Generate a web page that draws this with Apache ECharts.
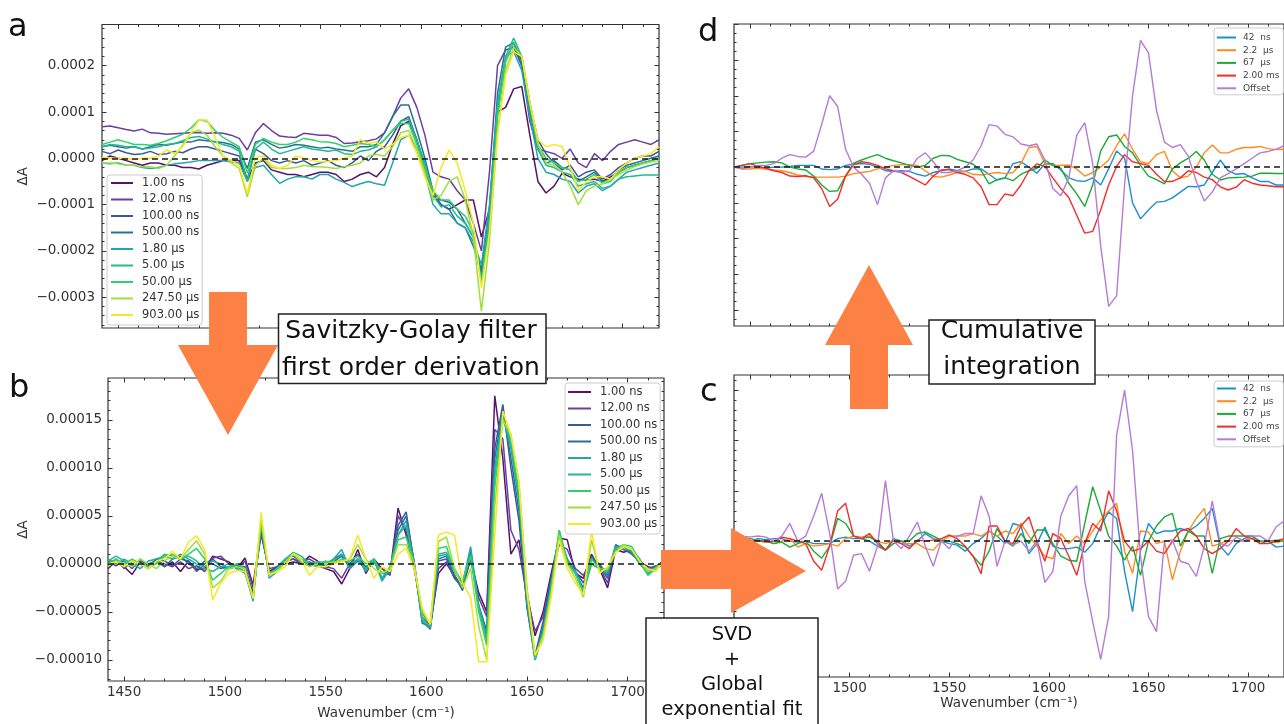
<!DOCTYPE html>
<html><head><meta charset="utf-8">
<script src="https://cdn.jsdelivr.net/npm/echarts@6/dist/echarts.min.js"></script>
<style>html,body{margin:0;padding:0;background:#fff}#c{width:1284px;height:724px}</style>
</head><body><div id="c"></div>
<script>
// ---------- DATA ----------
const wn = [1442,1446,1450,1454,1458,1462,1466,1470,1474,1478,1482,1486,1490,1494,1498,1502,1506,1510,1514,1518,1522,1526,1530,1534,1538,1542,1546,1550,1554,1558,1562,1566,1570,1574,1578,1582,1586,1590,1594,1598,1602,1606,1610,1614,1618,1622,1626,1630,1634,1638,1642,1646,1650,1654,1658,1662,1666,1670,1674,1678,1682,1686,1690,1694,1698,1702,1706,1710,1714,1718];

const abNames = ['1.00 ns','12.00 ns','100.00 ns','500.00 ns','1.80 µs','5.00 µs','50.00 µs','247.50 µs','903.00 µs'];
const abColors = ['#55136b','#6a3fa0','#3b5a9d','#2a6f96','#22a5ad','#20b991','#2fd16a','#9fdf3b','#fbe622'];

// panel a : ΔA in units of 1e-5
const a1 = [-0.5,0.5,0,-0.5,-1,-1.5,-1,-1,-1.5,-1.5,-2,-2,-2.3,-1.5,-1,-0.5,-0.5,-0.5, -4.7,-1,-0.5,-2.5,-3,-3.5,-3.5,-4,-3.5,-3,-3,-3.5,-5,-4.5,-3.5,-3,-4,-2, 3,7,8,4,-2,-8,-10,-11,-10,-9,-9,-17, -11,10,11,15,15.5,5,-5,-7.5,-6,-3.2,-4,-4.5,-4.7,-4.5,-5,-4,-3,-2,-1.5,-1,-0.5,0];
const a2 = [6.8,7.0,6.6,6.2,5.9,6.3,5.5,5.4,5.2,5.3,5.4,5.5,5.6,5.4,5.5,5.4,5.0,4.3, 1.8,5.5,7.5,6,4.8,4.6,4.5,5.4,5.2,5,5,4.5,3.2,3.3,3.6,3.8,4.2,5.5, 9,13,15,11,5,-3,-4,-4.5,-7,-9,-14,-20, -3,20,23.4,24,20,8,2,1.5,1,0,2,-1,-2,1,-0.5,1.5,3,3.5,4,3.5,3,4];
const a3 = [1.5,1.0,1.8,1.2,0.8,1.0,1.5,0.8,1.0,1.5,1.2,2.0,2.5,2.5,2.0,1.5,1.0,0.5, -4.5,2.0,1.0,-0.5,-1.0,-0.5,-1.0,-0.5,-1.5,-1.0,-0.5,-1.5,-2.0,-1.0,0.5,-0.5,1.5,2.5, 5,8,9,4,-2,-8,-9,-9.5,-11,-14,-17,-25, -14,10,21,25,21,12,4,1,-1,-2.5,-1.5,-4,-3,-2.5,-4.5,-3.5,-2,-1,0,0.5,0.5,1.5];
const a4 = [2.5,2.8,2.5,2.2,2.5,2.0,2.5,3.0,2.8,3.2,3.5,3.5,4.0,3.8,3.6,3.4,3.0,2.0, -2.2,3.5,4.0,3.0,2.2,2.5,3.0,2.8,2.5,2.2,2.4,2.0,1.8,1.5,2.5,2.5,3.0,5.5, 9,11.5,11.5,6,0,-7,-10,-11,-14,-15,-19,-24, -11,14,24,25,20,10,2,-1,-0.5,-2,-2.5,-5,-4,-3,-5,-4.5,-2.5,-1.5,-1,-0.5,0,0.5];
const a5 = [-1.0,-1.2,-1.0,-1.5,-1.5,-2.0,-2.2,-2.0,-1.5,-1.2,-1.0,-0.8,-0.5,-0.5,-0.5,-0.5,-0.8,-1.0, -5,-2,-1.5,-3.5,-5.4,-4.5,-4.0,-4.0,-4.5,-3.5,-3.5,-4.5,-5.2,-6.1,-5.5,-5.0,-5.5,-5.8, -1,4,5,2,-3,-10,-12,-12,-14,-15,-18,-23, -10,12,22,23,19,9,0,-3,-3.5,-4.5,-5,-7.5,-6,-5.5,-7,-6,-4.5,-3,-2.5,-2,-1.5,-1];
const a6 = [2.5,3.0,2.8,2.5,2.5,2.0,2.2,2.5,3.0,3.2,3.8,4.5,4.7,4.2,3.5,3.0,2.5,1.5, -5,2.0,3.5,2.0,1.0,1.5,2.0,2.5,2.0,1.8,1.5,1.8,1.0,0.8,1.5,1.8,2.5,4.0, 6,8,8.5,4,-1,-8,-10.5,-10,-12.5,-14,-17,-26, -13,11,22,26,22,11,2,-1.5,-2,-3,-3.5,-6,-5.5,-5,-6.5,-6,-4.5,-4,-3.8,-3.6,-3.6,-3.6];
const a7 = [3.0,3.5,4.0,3.5,3.0,3.0,2.8,3.2,3.8,4.5,5.2,6.5,8.3,8.0,6.0,4.5,3.5,2.5, -3.2,3.0,4.3,3.5,3.0,3.0,3.5,4.3,4.0,3.6,3.5,3.2,2.5,2.8,3.2,3.0,2.5,4.0, 6,7.5,7.5,3,-2,-7,-9,-9,-11,-12.5,-16,-27, -15,9,21,25,22,12,3,0,-1,-2,-2.5,-5,-4.5,-3.5,-5.5,-5,-3,-2,-1.5,-1,-0.5,0];
const a8 = [-1.0,-1.0,-1.2,-1.5,-1.5,-1.8,-1.8,-2.2,-1.5,0.5,2.9,5.5,6.1,5.0,2.5,0.5,-1.0,-2.2, -8.3,-1.5,0,-2.0,-2.2,-2.2,-2.0,-1.5,-1.8,-1.8,-2.0,-2.2,-1.8,-1.5,-1.0,0.5,0.8,0.5, 2.5,5.5,6,2,-3,-9,-8,-5,-4,-9,-17,-33, -18,6,19,24,22,12,3,-1,-1.5,-3,-6,-10,-7,-6,-5.5,-4.5,-3.5,-2.5,-1.8,-1.2,-0.8,-0.5];
const a9 = [0.3,0,0,0,-0.3,0,0,0.5,1.8,1.0,2.5,5.5,8.3,8.3,4.5,0.5,-0.5,-1.5, -7.6,0.2,0.5,-1.5,-2.2,-1.5,0.5,0,-0.5,-0.8,-0.7,-0.5,0,0.5,4,3.2,3.5,2, 3,4.5,5,1,-4,-8,-2,1.8,-1,-7,-14,-28, -16,5,18,23,22,12,4,2.5,3,2.5,-2,-7,-5,-4,-4,-4.5,-2.5,-1,0,0.5,1,2.5];

// panel b : dΔA in units of 1e-5
const b1 = [-0.5,0.3,-0.3,-1.1,0.2,-0.5,0.5,-0.3,0.2,-0.8,0.3,-0.6,-0.5,0.8,0.5,0.2,-0.5,0.6, -2.2,3.4,-0.8,-0.3,0.0,0.2,0.0,0.8,0.3,-0.5,-0.8,-2.1,-0.5,1.5,-1.0,0.5,-0.5,-1.0, 5.8,3.0,-0.5,-5.0,-6.5,-1.0,0.0,-1.2,-2.5,0.5,-3.0,-5.0, 17.5,11,1.0,2.5,-3.0,-7.5,-5.0,-1.0,2.7,2.5,-1.0,-1.5,1.0,-0.5,-2.5,1.5,1.2,1.5,0.2,-0.3,-0.5,0.5];
const b2 = [0.2,-0.2,0.3,-0.5,0.5,-0.2,0.3,0.0,-0.3,0.2,-0.5,-0.2,-0.8,0.6,0.8,0.0,-0.5,0.3, -2.5,3.0,-0.5,-0.3,0.3,0.5,0.2,0.5,0.0,-0.3,-0.5,-1.5,0.0,1.0,-0.5,0.2,-0.5,-1.2, 5.0,3.5,-0.3,-5.5,-6.5,-0.5,0.2,-1.5,-2.3,0.5,-3.5,-5.5, 14,13,3.5,1.5,-3.5,-7,-5.5,-1.5,2.0,1.5,-0.5,-1.2,0.5,-0.3,-2.0,1.8,1.5,1.0,0.3,-0.5,-0.3,0.3];
const b3 = [0.0,0.5,-0.5,0.3,0.0,-0.3,0.5,0.3,-0.2,0.5,0.3,-0.8,0.0,0.5,-0.3,-0.5,-0.2,-0.3, -3.0,3.5,-1.0,-0.5,0.3,0.5,0.0,0.2,-0.2,-0.5,0.2,0.8,-0.3,0.5,-0.3,0.2,-1.0,-1.0, 4.0,5.4,0.0,-6.0,-6.8,0.3,0.5,-1.5,-2.5,1.0,-4.3,-7.0, 12,16.6,10,4.5,-4.5,-9.5,-6.0,-1.5,2.5,0.5,-0.8,-2.0,0.5,0.0,-1.2,2.0,1.5,1.2,0.0,-0.5,-0.2,0.0];
const b4 = [0.3,0.2,0.0,-0.3,0.3,0.0,0.3,-0.3,0.5,0.8,0.0,-0.5,0.3,0.0,-0.5,-0.3,0.0,-0.5, -3.3,4.0,-1.2,-0.3,0.5,0.8,0.2,-0.2,0.0,-0.3,0.5,1.0,-0.5,0.3,-0.5,0.5,-1.5,-0.8, 3.5,5.0,0.2,-6.2,-6.5,0.5,0.8,-1.2,-2.8,1.5,-4.5,-7.5, 11,16,11,5.5,-4.5,-10,-6.5,-1.8,2.8,0.3,-1.0,-2.5,0.8,-0.2,-1.5,1.8,1.8,1.0,0.2,-0.8,-0.5,0.2];
const b5 = [0.5,0.0,0.5,0.0,-0.5,0.3,0.5,0.8,0.5,1.0,0.5,0.0,-0.3,0.3,0.0,-0.5,-0.3,-0.8, -3.9,4.4,-1.5,-0.8,0.3,1.0,0.5,0.0,-0.3,0.0,0.5,1.5,-0.5,0.5,-0.8,0.5,-1.8,-0.5, 3.0,4.5,0.0,-6.0,-6.7,0.8,1.0,-0.8,-2.0,1.8,-4.3,-7.5, 10,15.5,12,6.5,-4,-10,-7,-2.2,3.0,0.5,-1.0,-2.9,0.0,-0.5,-1.0,1.5,2.0,1.2,0.0,-1.0,-0.5,0.0];
const b6 = [0.3,0.8,0.3,-0.2,0.0,-0.5,0.2,1.0,0.8,0.5,0.8,0.3,-0.5,-0.8,-0.3,0.0,-0.5,-1.0, -3.5,4.0,-1.2,-0.5,0.5,1.2,0.8,0.0,0.2,0.2,0.3,1.0,0.0,0.5,-0.5,0.3,-1.5,-0.3, 3.0,4.0,0.0,-5.8,-6.5,1.0,1.2,-0.5,-2.0,1.0,-4.5,-8.0, 9,15.5,12.5,7.0,-3.5,-10,-7,-2.5,3.5,0.3,-0.8,-3.0,0.0,-0.5,-0.8,1.8,1.5,1.5,0.5,-1.0,-0.3,0.2];
const b7 = [0.0,0.5,0.0,0.5,0.0,-0.3,0.0,0.8,1.0,0.5,1.0,1.6,0.5,-1.7,-1.0,-0.3,0.0,-0.5, -3.5,4.2,-1.0,-0.5,0.3,1.0,0.5,0.0,-0.3,0.3,0.0,0.5,0.3,0.8,0.0,0.5,-1.0,-0.5, 2.5,2.8,0.0,-5.5,-6.2,1.6,1.8,-0.8,-1.8,0.8,-5.0,-8.5, 8,15,13,7.5,-3.0,-9.8,-7.5,-2.5,3.5,0.0,-1.0,-3.0,0.5,-0.5,-0.5,1.5,2.0,1.8,0.3,-1.2,-0.5,0.0];
const b8 = [-0.3,0.3,0.0,-0.3,0.5,0.0,-0.5,0.3,0.8,0.5,1.5,2.4,1.0,-2.5,-1.8,-0.5,-0.3,-0.5, -3.6,4.8,-1.2,-0.8,0.2,1.0,0.2,-0.3,0.0,0.0,0.2,0.3,0.5,2.0,0.5,-0.5,-1.0,-0.5, 2.0,2.0,0.0,-5.0,-6.3,2.3,2.8,-0.5,-2.5,-0.5,-6.5,-10, 6,15,13.5,8.5,-2.5,-9.5,-7.5,-3.0,3.0,0.0,-1.5,-3.5,2.5,-0.8,-0.5,1.2,2.0,1.5,0.3,-0.8,-0.5,0.3];
const b9 = [0.0,0.2,-0.3,0.3,0.0,-0.5,0.3,0.5,1.3,0.5,2.3,2.9,1.5,-3.75,-2.0,-1.0,-0.7,-0.8, -3.6,5.35,-1.1,-0.8,-0.3,1.1,0.5,-1.2,-0.3,-0.3,0.0,0.2,0.5,3.0,0.5,-1.5,-0.3,-0.8, 1.0,1.6,-0.5,-4.6,-6.3,3.0,3.3,3.0,-2.0,-3.5,-10.2,-10.2, 3,15.9,13.5,8.5,-3.0,-9.5,-8,-3.5,2.5,-0.5,-2.0,-3.2,3.4,-1.0,-0.3,1.2,1.8,1.5,0.2,-0.5,-0.8,0.5];

const cdNames = ['42  ns','2.2  µs','67  µs','2.00 ms','Offset'];
const cdColors = ['#1b8fd2','#ff8c1a','#1aaa35','#f52a2a','#b57bd6'];

// panel d : cumulative integration (arb. units)
const d42 = [0,0,0.02,0,-0.02,0,0,0.02,0.05,0.05,0.05,-0.05,-0.07,-0.05,0.05,0.08,0.1,0.08,0.0,-0.1,-0.12,-0.1,-0.12,-0.2,-0.25,-0.15,-0.1,-0.05,-0.1,-0.12,-0.05,-0.05,-0.2,-0.36,-0.3,0.1,0.15,0.0,-0.17,0.1,0.1,-0.08,-0.3,-0.38,-0.4,-0.3,-0.5,-0.05,0.45,0.25,-1.0,-1.45,-1.2,-0.98,-0.96,-0.86,-0.7,-0.54,-0.55,-0.5,-0.15,0.2,-0.1,-0.2,-0.18,-0.3,-0.4,-0.4,-0.5,-0.5];
const d22 = [0,-0.05,-0.05,-0.03,-0.05,-0.08,-0.1,-0.15,-0.22,-0.26,-0.28,-0.28,-0.28,-0.28,-0.25,-0.18,-0.15,-0.12,-0.05,0.0,0.05,0.07,0.07,0.05,-0.1,-0.26,-0.28,-0.22,-0.15,-0.12,-0.2,-0.22,-0.18,-0.15,-0.18,-0.15,0.1,0.55,0.58,0.1,0.05,0.05,0.06,-0.05,-0.25,-0.15,0.0,0.2,0.6,0.93,0.5,0.15,0.1,0.35,0.44,-0.1,-0.3,-0.25,0.0,0.4,0.62,0.4,0.4,0.5,0.55,0.55,0.58,0.52,0.49,0.5];
const d67 = [0,0.05,0.1,0.12,0.14,0.15,0.12,0,-0.05,-0.08,-0.25,-0.5,-0.68,-0.66,-0.25,0.11,0.2,0.28,0.35,0.25,0.18,0.12,0.05,0,0.05,0.25,0.33,0.32,0.22,0.15,0.08,-0.1,-0.47,-0.35,-0.3,-0.38,-0.2,-0.1,-0.03,0.2,0.05,-0.03,-0.45,-0.75,-1.1,-0.5,0.45,0.85,0.9,0.58,0.4,0.05,-0.25,-0.35,-0.47,-0.05,0.12,0.25,0.44,0.2,-0.2,-0.36,-0.3,-0.29,-0.28,-0.25,-0.17,-0.17,-0.18,-0.18];
const d2ms = [0,0.05,0.1,0.03,-0.03,-0.1,-0.15,-0.25,-0.26,-0.24,-0.3,-0.6,-1.1,-0.9,-0.25,0.07,0.15,0.12,0.05,-0.05,-0.1,-0.15,-0.26,-0.38,-0.5,-0.25,-0.08,-0.07,-0.15,-0.2,-0.3,-0.55,-1.05,-1.05,-0.75,-0.8,-0.5,-0.1,0.09,0.02,-0.3,-0.6,-0.85,-1.35,-1.85,-1.8,-1.2,-0.5,0.02,0.35,0.15,0.1,0.05,-0.2,-0.4,-0.4,-0.3,-0.1,-0.15,-0.28,-0.35,-0.55,-0.64,-0.56,-0.35,-0.45,-0.5,-0.52,-0.55,-0.55];
const dOff = [0.0,-0.05,0.0,0.05,0.05,0.1,0.25,0.35,0.3,0.28,0.45,1.2,2.0,1.7,0.5,0.0,-0.2,-0.45,-1.05,-0.3,-0.1,-0.15,-0.1,0.25,0.4,0.15,-0.15,-0.15,-0.1,0.0,0.2,0.6,1.19,1.15,0.92,0.85,0.65,0.6,0.65,0.2,-0.6,-0.8,-0.3,0.9,1.25,0.1,-2.2,-3.9,-3.6,-0.5,2.0,3.55,3.2,1.6,0.7,0.55,0.63,0.3,-0.4,-0.95,-0.7,-0.3,-0.18,-0.05,0.1,0.25,0.4,0.44,0.5,0.6];

// panel c : SVD / global fit DAS (arb. units)
const c42 = [0,0.05,0,0.05,0.03,0.05,0.05,0,-0.02,0,-0.05,-0.05,-0.05,0.05,0.08,0.05,0.05,0,-0.1,-0.18,0.05,0,-0.1,0,0.15,0.05,0,-0.05,-0.08,-0.2,-0.05,0.05,0.2,0.1,-0.05,0.35,0.3,-0.25,-0.05,0.28,-0.1,-0.15,-0.15,-0.12,-0.22,-0.05,0.3,0.58,0.45,-0.6,-1.4,-0.2,0.35,0.15,0.2,0.2,0.25,0.2,0.3,0.45,0.65,-0.1,-0.28,-0.05,0.05,0.1,-0.05,0,-0.12,-0.1];
const c22 = [0.05,0.05,0,0.02,0,-0.05,0,0.05,-0.12,-0.05,-0.1,-0.08,-0.05,-0.1,0.05,0.1,0.08,0.1,0,-0.05,0,-0.05,-0.05,-0.05,-0.15,-0.18,0,0.1,0.1,0.1,0.15,0.1,0.2,0.1,0.2,0.15,0.35,0.1,-0.1,-0.3,-0.35,0.15,-0.05,0.1,-0.05,0.2,0.42,0.6,0.75,-0.2,-0.64,0.2,0.18,-0.05,0,-0.77,-0.2,0.2,0.45,0.65,-0.1,-0.05,0.02,0,0,0.05,0,0,-0.03,0];
const c67 = [0,0.02,0.05,0.02,0,-0.05,-0.02,-0.12,-0.05,0,-0.2,-0.34,-0.1,0.45,0.35,0.1,0.05,0.08,0,-0.18,-0.05,0,0,0.15,0.18,0.1,0.02,0,-0.05,-0.12,-0.3,-0.48,-0.2,0.25,0,-0.1,0.15,-0.05,0.22,0.22,-0.05,-0.3,-0.38,-0.4,0.35,1.08,0.6,0.1,-0.1,-0.38,-0.1,-0.68,0,0.3,0.48,0.55,-0.1,0.2,0.1,0.1,-0.64,0.05,0.1,0.1,0.1,0.1,0,0,0.02,0];
const c2ms = [0,0.02,0,0,-0.02,0,0.08,0.05,0,-0.05,-0.4,-0.58,-0.1,0.6,0.75,0.1,0.05,0.15,-0.05,-0.18,0.02,-0.05,-0.15,0.02,0,0.02,0.05,0.12,0.05,-0.1,-0.3,-0.65,0.3,0.3,0,-0.05,0.3,0.48,0,-0.4,0.15,0.05,-0.3,-0.68,-0.05,0.35,0.2,1.0,0.6,0,-0.2,-0.15,0,-0.2,-0.25,0,0.2,0.25,0.1,-0.15,-0.25,-0.15,0,0.25,0.1,0.05,-0.05,-0.05,0,0.05];
const cOff = [0.05,0.09,0.08,0.1,0.08,0,0.1,0.35,0,0.1,0.5,0.95,0.15,-0.95,-0.8,-0.28,-0.25,-0.6,-0.1,1.2,0,-0.15,0.1,0.38,-0.1,-0.5,0,-0.15,0.1,0.15,0.15,0.9,0.5,-0.5,0,-0.08,0,-0.2,0,-0.82,-0.6,0.5,0.9,1.1,-0.8,-1.6,-2.35,-1.5,2.1,3.0,1.8,-0.3,-1.5,-1.8,0,0.02,-0.4,-0.45,-0.7,-0.1,0.8,-0.05,-0.1,0.08,0,0.1,0.1,0,0.28,0.4];

// tick values
const xTicks = [1450,1500,1550,1600,1650,1700];
const xMinor = [1460,1470,1480,1490,1510,1520,1530,1540,1560,1570,1580,1590,1610,1620,1630,1640,1660,1670,1680,1690,1710];
const aTicks = [-30,-20,-10,0,10,20];
const aMinor = [-36,-34,-32,-28,-26,-24,-22,-18,-16,-14,-12,-8,-6,-4,-2,2,4,6,8,12,14,16,18,22,24,26,28];
const bTicks = [-10,-5,0,5,10,15];
const bMinor = [-12,-11,-9,-8,-7,-6,-4,-3,-2,-1,1,2,3,4,6,7,8,9,11,12,13,14,16,17,18,19];
const cTicks = [-2,-1,0,1,2,3];
const cMinor = [-2.6,-2.4,-2.2,-1.8,-1.6,-1.4,-1.2,-0.8,-0.6,-0.4,-0.2,0.2,0.4,0.6,0.8,1.2,1.4,1.6,1.8,2.2,2.4,2.6,2.8,3.2];
const dTicks = [-4,-3,-2,-1,0,1,2,3,4];
const dMinor = [-4.25,-3.75,-3.5,-3.25,-2.75,-2.5,-2.25,-1.75,-1.5,-1.25,-0.75,-0.5,-0.25,0.25,0.5,0.75,1.25,1.5,1.75,2.25,2.5,2.75,3.25,3.5,3.75];

// ---------- CHART ----------
const FONT = 'DejaVu Sans';
const TXT = '#333';
const AX = '#333';
const ORANGE = '#fd8044';
const X_MIN = 1442, X_MAX = 1718;

const grids = [
  {left:102, top:24.5, width:557, height:303.5},
  {left:108, top:378, width:556, height:303},
  {left:734, top:24, width:557.5, height:302},
  {left:734, top:375, width:557.5, height:302}
].map(g => Object.assign({show:true, borderColor:'#333', borderWidth:1.2, backgroundColor:'transparent'}, g));

const xAxes = [], yAxes = [];
function tickAx(list, g, pos, min, max, ticks, len, extra) {
  const ax = Object.assign({
    type:'value', gridIndex:g, position:pos, min:min, max:max,
    axisLine:{show:false, onZero:false}, splitLine:{show:false},
    axisTick:{show:true, inside:true, length:len, customValues:ticks, lineStyle:{color:AX, width:1}},
    axisLabel:{show:false}, silent:true
  }, extra || {});
  list.push(ax);
  return list.length - 1;
}
const lbl = (ticks, fmt, margin) => ({show:true, customValues:ticks, formatter:fmt, margin:margin, fontSize:13.5, color:TXT, fontFamily:FONT});
const fmtX = v => String(v);
const fmtA = v => (v*1e-5).toFixed(4).replace('-', '\u2212');
const fmtB = v => (v*1e-5).toFixed(5).replace('-', '\u2212');
const wnName = {name:'Wavenumber (cm\u207B\u00B9)', nameLocation:'middle', nameTextStyle:{fontSize:13.5, color:TXT, fontFamily:FONT}};
const dAName = {name:'\u0394A', nameLocation:'middle', nameTextStyle:{fontSize:13.5, color:TXT, fontFamily:FONT}};

// panel a
const axA = tickAx(xAxes,0,'bottom',X_MIN,X_MAX,xTicks,4.5);
tickAx(xAxes,0,'bottom',X_MIN,X_MAX,xMinor,2.5);
tickAx(xAxes,0,'top',X_MIN,X_MAX,xTicks,4.5);
tickAx(xAxes,0,'top',X_MIN,X_MAX,xMinor,2.5);
const ayA = tickAx(yAxes,0,'left',-36.65,28.9,aTicks,4.5, Object.assign({axisLabel:lbl(aTicks,fmtA,7), nameGap:72}, dAName));
tickAx(yAxes,0,'left',-36.65,28.9,aMinor,2.5);
tickAx(yAxes,0,'right',-36.65,28.9,aTicks,4.5);
tickAx(yAxes,0,'right',-36.65,28.9,aMinor,2.5);
// panel b
const axB = tickAx(xAxes,1,'bottom',X_MIN,X_MAX,xTicks,4.5, Object.assign({axisLabel:lbl(xTicks,fmtX,4), nameGap:25}, wnName));
tickAx(xAxes,1,'bottom',X_MIN,X_MAX,xMinor,2.5);
tickAx(xAxes,1,'top',X_MIN,X_MAX,xTicks,4.5);
tickAx(xAxes,1,'top',X_MIN,X_MAX,xMinor,2.5);
const ayB = tickAx(yAxes,1,'left',-12.2,19.35,bTicks,4.5, Object.assign({axisLabel:lbl(bTicks,fmtB,6), nameGap:78}, dAName));
tickAx(yAxes,1,'left',-12.2,19.35,bMinor,2.5);
tickAx(yAxes,1,'right',-12.2,19.35,bTicks,4.5);
tickAx(yAxes,1,'right',-12.2,19.35,bMinor,2.5);
// panel d
const axD = tickAx(xAxes,2,'bottom',X_MIN,X_MAX,xTicks,4.5);
tickAx(xAxes,2,'bottom',X_MIN,X_MAX,xMinor,2.5);
tickAx(xAxes,2,'top',X_MIN,X_MAX,xTicks,4.5);
tickAx(xAxes,2,'top',X_MIN,X_MAX,xMinor,2.5);
const ayD = tickAx(yAxes,2,'left',-4.45,4.01,dTicks,4.5);
tickAx(yAxes,2,'left',-4.45,4.01,dMinor,2.5);
// panel c
const axC = tickAx(xAxes,3,'bottom',X_MIN,X_MAX,xTicks,4.5, Object.assign({axisLabel:lbl(xTicks,fmtX,4), nameGap:19}, wnName));
tickAx(xAxes,3,'bottom',X_MIN,X_MAX,xMinor,2.5);
tickAx(xAxes,3,'top',X_MIN,X_MAX,xTicks,4.5);
tickAx(xAxes,3,'top',X_MIN,X_MAX,xMinor,2.5);
const ayC = tickAx(yAxes,3,'left',-2.7,3.3,cTicks,4.5);
tickAx(yAxes,3,'left',-2.7,3.3,cMinor,2.5);

const zeroLine = {silent:true, symbol:['none','none'], label:{show:false}, animation:false,
  lineStyle:{color:'#1a1a1a', type:[6,4], width:1.5}, data:[{yAxis:0}]};

const series = [];
function addSeries(names, colors, arrays, xi, yi, w) {
  arrays.forEach((arr, k) => {
    const s = {type:'line', name:names[k], xAxisIndex:xi, yAxisIndex:yi, symbol:'none', animation:false,
      lineStyle:{width:w, color:colors[k]}, itemStyle:{color:colors[k]},
      data: wn.map((x, i) => [x, arr[i]])};
    if (k === arrays.length - 1) s.markLine = zeroLine;
    series.push(s);
  });
}
addSeries(abNames, abColors, [a1,a2,a3,a4,a5,a6,a7,a8,a9], axA, ayA, 1.5);
addSeries(abNames, abColors, [b1,b2,b3,b4,b5,b6,b7,b8,b9], axB, ayB, 1.5);
addSeries(cdNames, cdColors, [d42,d22,d67,d2ms,dOff], axD, ayD, 1.4);
addSeries(cdNames, cdColors, [c42,c22,c67,c2ms,cOff], axC, ayC, 1.4);

const legBase = {orient:'vertical', icon:'rect', itemHeight:2, selectedMode:false,
  backgroundColor:'#fff', borderColor:'#cccccc', borderWidth:1, borderRadius:3};
const legends = [
  Object.assign({}, legBase, {data:abNames, left:107, top:175, itemWidth:22, itemGap:4.5, padding:[2,3,4,4],
    textStyle:{fontSize:11.5, color:TXT, fontFamily:FONT, padding:[0,0,0,4]}}),
  Object.assign({}, legBase, {data:abNames, left:565, top:383, itemWidth:23, itemGap:4.5, padding:[3,3,4,3],
    textStyle:{fontSize:11.5, color:TXT, fontFamily:FONT, padding:[0,0,0,4]}}),
  Object.assign({}, legBase, {data:cdNames, left:1214, top:28, itemWidth:19, itemGap:3.7, padding:[5,4,2,3],
    textStyle:{fontSize:9, color:'#444', fontFamily:FONT, padding:[0,0,0,2]}}),
  Object.assign({}, legBase, {data:cdNames, left:1214, top:381, itemWidth:19, itemGap:3.7, padding:[3,4,3,3],
    textStyle:{fontSize:9, color:'#444', fontFamily:FONT, padding:[0,0,0,2]}})
];

function txt(t, x, y, size, align) {
  return {type:'text', x:x, y:y, z:100, style:{text:t, fontSize:size, fontFamily:FONT, fill:'#111', align:align||'center', verticalAlign:'middle'}};
}
const graphic = [
  {type:'polygon', z:50, shape:{points:[[209,292],[247,292],[247,345],[278,345],[228,435],[178,345],[209,345]]}, style:{fill:ORANGE}},
  {type:'polygon', z:50, shape:{points:[[661,550],[731,550],[731,528],[806,571],[731,613],[731,589],[661,589]]}, style:{fill:ORANGE}},
  {type:'polygon', z:50, shape:{points:[[850,409],[888,409],[888,345],[913,345],[869,265],[825,345],[850,345]]}, style:{fill:ORANGE}},
  {type:'rect', z:60, shape:{x:278.5, y:314, width:267.5, height:69.5}, style:{fill:'#fff', stroke:'#222', lineWidth:1.5}},
  txt('Savitzky-Golay filter', 411, 331.5, 25),
  txt('first order derivation', 411, 368.5, 25),
  {type:'rect', z:60, shape:{x:929, y:320, width:166, height:64}, style:{fill:'#fff', stroke:'#222', lineWidth:1.5}},
  txt('Cumulative', 1012, 331, 25),
  txt('integration', 1012, 367.5, 25),
  {type:'rect', z:60, shape:{x:646, y:618, width:172, height:130}, style:{fill:'#fff', stroke:'#222', lineWidth:1.5}},
  txt('SVD', 732, 635, 19.5),
  txt('+', 732, 659.5, 19.5),
  txt('Global', 732, 684.5, 19.5),
  txt('exponential fit', 732, 709.5, 19.5),
  txt('a', 8, 27.5, 32, 'left'),
  txt('b', 9, 388.5, 32, 'left'),
  txt('c', 700, 392.5, 32, 'left'),
  txt('d', 698, 32.5, 32, 'left')
];

const chart = echarts.init(document.getElementById('c'), null, {renderer:'canvas'});
chart.setOption({
  animation:false,
  backgroundColor:'#fff',
  textStyle:{fontFamily:FONT},
  grid:grids, xAxis:xAxes, yAxis:yAxes,
  legend:legends, series:series, graphic:graphic
});
</script></body></html>
